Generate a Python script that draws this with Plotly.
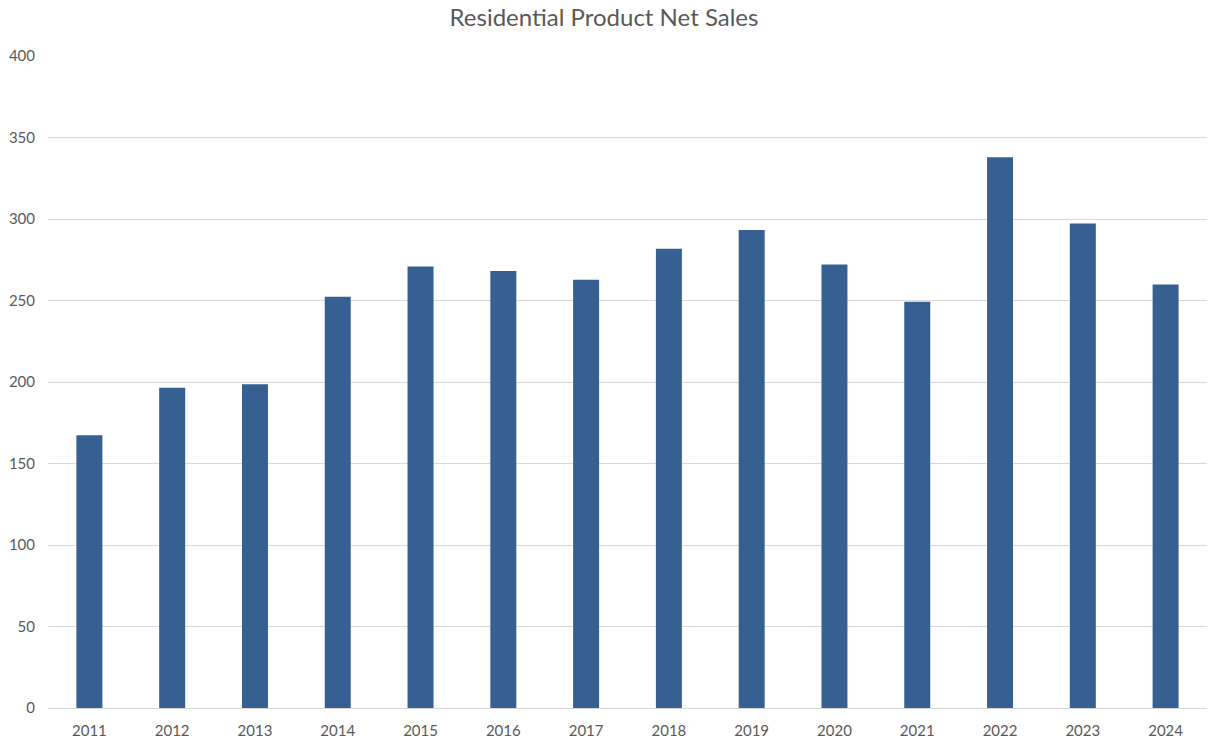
import plotly.graph_objects as go

years = ["2011", "2012", "2013", "2014", "2015", "2016", "2017", "2018", "2019", "2020", "2021", "2022", "2023", "2024"]
net_sales = [167.4, 196.5, 198.6, 252.3, 270.9, 268.1, 262.7, 281.8, 293.3, 272.1, 249.2, 337.9, 297.3, 259.8]
y_ticks = [0, 50, 100, 150, 200, 250, 300, 350, 400]

fig = go.Figure(go.Bar(x=years, y=net_sales, marker=dict(color="#376092", line=dict(width=0))))

fig.update_layout(
    width=1208, height=745,
    paper_bgcolor="white", plot_bgcolor="white",
    margin=dict(l=48, r=1, t=56, b=37, autoexpand=False),
    bargap=0.686,
    showlegend=False,
    font=dict(family="Lato, Open Sans, sans-serif", color="#595959", size=14),
    title=dict(text="Residential Product Net Sales", x=0.5, xanchor="center", y=0.976, yanchor="middle",
               font=dict(size=24, color="#595959")),
)
fig.update_xaxes(showgrid=False, showline=True, linecolor="#d9d9d9", linewidth=1, ticks="",
                 ticklabelstandoff=9, tickfont=dict(size=15, color="#595959"))
fig.update_yaxes(range=[0, 400], tickvals=y_ticks, showgrid=True, gridcolor="#d9d9d9", gridwidth=1,
                 zeroline=False, showline=False, ticks="", ticklabelstandoff=12,
                 tickfont=dict(size=15, color="#595959"))

fig.write_html("out.html", config={"displayModeBar": False},
               post_script="document.body.style.margin='0';")
